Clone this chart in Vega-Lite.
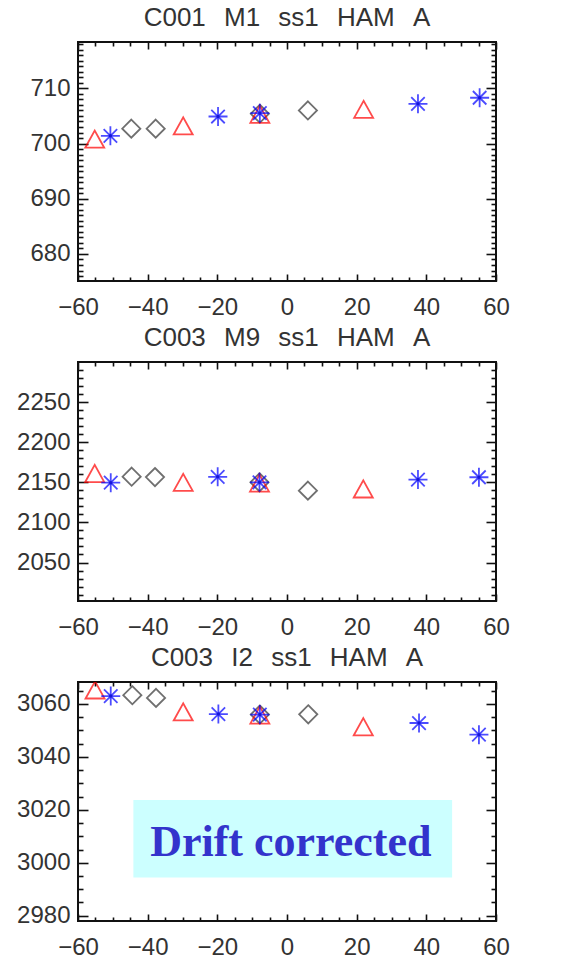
{
  "$schema": "https://vega.github.io/schema/vega-lite/v6.json",
  "padding": {"left": 15, "top": 4, "right": 5, "bottom": 2},
  "spacing": 4,
  "config": {
    "view": {"stroke": "#111", "strokeWidth": 2},
    "axis": {"grid": false, "domain": false, "title": null, "format": "d", "labelFont": "Liberation Sans", "labelFontSize": 24, "labelColor": "#333", "tickColor": "#111", "tickWidth": 1.6, "labelFlush": false, "labelOverlap": false, "labelBound": false},
    "title": {"font": "Liberation Sans", "fontSize": 26, "fontWeight": "normal", "color": "#333", "offset": 10, "baseline": "alphabetic", "frame": "group", "anchor": "middle"}
  },
  "datasets": {
    "pts": [
      {"p": 1, "s": "tri", "x": -55.2, "y": 700.8},
      {"p": 1, "s": "tri", "x": -29.8, "y": 703.2},
      {"p": 1, "s": "tri", "x": -7.8, "y": 705.3},
      {"p": 1, "s": "tri", "x": 22.0, "y": 706.2},
      {"p": 1, "s": "ast", "x": -50.7, "y": 701.4},
      {"p": 1, "s": "ast", "x": -19.8, "y": 704.9},
      {"p": 1, "s": "ast", "x": -7.8, "y": 705.5},
      {"p": 1, "s": "ast", "x": 37.6, "y": 707.2},
      {"p": 1, "s": "ast", "x": 55.3, "y": 708.3},
      {"p": 1, "s": "dia", "x": -44.7, "y": 702.7},
      {"p": 1, "s": "dia", "x": -37.7, "y": 702.7},
      {"p": 1, "s": "dia", "x": -7.8, "y": 705.4},
      {"p": 1, "s": "dia", "x": 6.0, "y": 706.0},
      {"p": 2, "s": "tri", "x": -55.2, "y": 2161.0},
      {"p": 2, "s": "tri", "x": -29.8, "y": 2150.0},
      {"p": 2, "s": "tri", "x": -7.9, "y": 2149.0},
      {"p": 2, "s": "tri", "x": 21.9, "y": 2141.7},
      {"p": 2, "s": "ast", "x": -50.6, "y": 2149.5},
      {"p": 2, "s": "ast", "x": -19.9, "y": 2156.8},
      {"p": 2, "s": "ast", "x": -7.9, "y": 2150.0},
      {"p": 2, "s": "ast", "x": 37.6, "y": 2153.4},
      {"p": 2, "s": "ast", "x": 55.1, "y": 2156.3},
      {"p": 2, "s": "dia", "x": -44.6, "y": 2157.0},
      {"p": 2, "s": "dia", "x": -37.9, "y": 2156.5},
      {"p": 2, "s": "dia", "x": -7.9, "y": 2150.0},
      {"p": 2, "s": "dia", "x": 6.0, "y": 2139.6},
      {"p": 3, "s": "tri", "x": -55.1, "y": 3065.3},
      {"p": 3, "s": "tri", "x": -29.8, "y": 3057.0},
      {"p": 3, "s": "tri", "x": -7.8, "y": 3055.8},
      {"p": 3, "s": "tri", "x": 21.9, "y": 3051.4},
      {"p": 3, "s": "ast", "x": -50.6, "y": 3063.0},
      {"p": 3, "s": "ast", "x": -19.7, "y": 3056.2},
      {"p": 3, "s": "ast", "x": -7.8, "y": 3056.0},
      {"p": 3, "s": "ast", "x": 37.9, "y": 3052.8},
      {"p": 3, "s": "ast", "x": 55.1, "y": 3048.4},
      {"p": 3, "s": "dia", "x": -44.4, "y": 3063.3},
      {"p": 3, "s": "dia", "x": -37.6, "y": 3062.3},
      {"p": 3, "s": "dia", "x": -7.8, "y": 3056.0},
      {"p": 3, "s": "dia", "x": 6.1, "y": 3056.1}
    ],
    "note": [
      {"x1": -44.1, "x2": 47.4, "y1": 2994.4, "y2": 3023.7, "xc": 1.1, "yc": 3002.6, "label": "Drift corrected"}
    ]
  },
  "vconcat": [
    {
      "title": {"text": "C001\u2002\u2009M1\u2002\u2009ss1\u2002\u2009HAM\u2002\u2009A"},
      "width": 418, "height": 239,
      "resolve": {"axis": {"x": "independent", "y": "independent"}},
      "layer": [
        {
          "data": {"name": "pts"},
          "transform": [{"filter": "datum.p == 1 && datum.s == 'dia'"}],
          "mark": {"type": "point", "shape": "M0,-1L1,0L0,1L-1,0Z", "filled": false, "color": "#333", "strokeWidth": 1.8, "size": 330},
          "encoding": {
            "x": {"field": "x", "type": "quantitative", "scale": {"domain": [-60, 60], "nice": false, "zero": false}, "axis": {"orient": "bottom", "values": [-60, -40, -20, 0, 20, 40, 60], "ticks": false, "labelPadding": 14}},
            "y": {"field": "y", "type": "quantitative", "scale": {"domain": [675.1, 718.4], "nice": false, "zero": false}, "axis": {"orient": "left", "values": [680, 690, 700, 710], "ticks": false, "labelPadding": 8}}
          }
        },
        {
          "data": {"name": "pts"},
          "transform": [{"filter": "datum.p == 1 && datum.s == 'tri'"}],
          "mark": {"type": "point", "shape": "M-1,0.9L0,-0.9L1,0.9Z", "filled": false, "color": "#ff0000", "strokeWidth": 1.8, "size": 361},
          "encoding": {
            "x": {"field": "x", "type": "quantitative", "scale": {"domain": [-60, 60], "nice": false, "zero": false}, "axis": {"orient": "bottom", "values": [-60, -40, -20, 0, 20, 40, 60], "labels": false, "tickSize": -7}},
            "y": {"field": "y", "type": "quantitative", "scale": {"domain": [675.1, 718.4], "nice": false, "zero": false}, "axis": {"orient": "left", "values": [680, 690, 700, 710], "labels": false, "tickSize": -10}}
          }
        },
        {
          "data": {"name": "pts"},
          "transform": [{"filter": "datum.p == 1 && datum.s == 'ast'"}],
          "mark": {"type": "point", "shape": "M-1,0L1,0M0,-1L0,1M-0.71,-0.71L0.71,0.71M-0.71,0.71L0.71,-0.71", "filled": false, "color": "#0000ff", "strokeWidth": 1.8, "size": 361},
          "encoding": {
            "x": {"field": "x", "type": "quantitative", "scale": {"domain": [-60, 60], "nice": false, "zero": false}, "axis": {"orient": "bottom", "values": [-55, -50, -45, -35, -30, -25, -15, -10, -5, 5, 10, 15, 25, 30, 35, 45, 50, 55], "labels": false, "tickSize": -4}},
            "y": {"field": "y", "type": "quantitative", "scale": {"domain": [675.1, 718.4], "nice": false, "zero": false}, "axis": {"orient": "left", "values": [676, 677, 678, 679, 681, 682, 683, 684, 685, 686, 687, 688, 689, 691, 692, 693, 694, 695, 696, 697, 698, 699, 701, 702, 703, 704, 705, 706, 707, 708, 709, 711, 712, 713, 714, 715, 716, 717, 718], "labels": false, "tickSize": -5}}
          }
        },
        {
          "data": {"name": "pts"},
          "transform": [{"filter": "datum.p == 1 && datum.s == 'ast'"}],
          "mark": {"type": "point", "shape": "circle", "filled": true, "color": "#0000cc", "size": 12},
          "encoding": {
            "x": {"field": "x", "type": "quantitative", "scale": {"domain": [-60, 60], "nice": false, "zero": false}, "axis": {"orient": "top", "values": [-60, -40, -20, 0, 20, 40, 60], "labels": false, "tickSize": -7}},
            "y": {"field": "y", "type": "quantitative", "scale": {"domain": [675.1, 718.4], "nice": false, "zero": false}, "axis": {"orient": "right", "values": [680, 690, 700, 710], "labels": false, "tickSize": -10}}
          }
        },
        {
          "data": {"name": "pts"},
          "transform": [{"filter": "datum.p == 1"}],
          "mark": {"type": "point", "opacity": 0},
          "encoding": {
            "x": {"field": "x", "type": "quantitative", "scale": {"domain": [-60, 60], "nice": false, "zero": false}, "axis": {"orient": "top", "values": [-55, -50, -45, -35, -30, -25, -15, -10, -5, 5, 10, 15, 25, 30, 35, 45, 50, 55], "labels": false, "tickSize": -4}},
            "y": {"field": "y", "type": "quantitative", "scale": {"domain": [675.1, 718.4], "nice": false, "zero": false}, "axis": {"orient": "right", "values": [676, 677, 678, 679, 681, 682, 683, 684, 685, 686, 687, 688, 689, 691, 692, 693, 694, 695, 696, 697, 698, 699, 701, 702, 703, 704, 705, 706, 707, 708, 709, 711, 712, 713, 714, 715, 716, 717, 718], "labels": false, "tickSize": -5}}
          }
        }
      ]
    },
    {
      "title": {"text": "C003\u2002\u2009M9\u2002\u2009ss1\u2002\u2009HAM\u2002\u2009A"},
      "width": 418, "height": 239,
      "resolve": {"axis": {"x": "independent", "y": "independent"}},
      "layer": [
        {
          "data": {"name": "pts"},
          "transform": [{"filter": "datum.p == 2 && datum.s == 'dia'"}],
          "mark": {"type": "point", "shape": "M0,-1L1,0L0,1L-1,0Z", "filled": false, "color": "#333", "strokeWidth": 1.8, "size": 330},
          "encoding": {
            "x": {"field": "x", "type": "quantitative", "scale": {"domain": [-60, 60], "nice": false, "zero": false}, "axis": {"orient": "bottom", "values": [-60, -40, -20, 0, 20, 40, 60], "ticks": false, "labelPadding": 14}},
            "y": {"field": "y", "type": "quantitative", "scale": {"domain": [2002, 2300], "nice": false, "zero": false}, "axis": {"orient": "left", "values": [2050, 2100, 2150, 2200, 2250], "ticks": false, "labelPadding": 8}}
          }
        },
        {
          "data": {"name": "pts"},
          "transform": [{"filter": "datum.p == 2 && datum.s == 'tri'"}],
          "mark": {"type": "point", "shape": "M-1,0.9L0,-0.9L1,0.9Z", "filled": false, "color": "#ff0000", "strokeWidth": 1.8, "size": 361},
          "encoding": {
            "x": {"field": "x", "type": "quantitative", "scale": {"domain": [-60, 60], "nice": false, "zero": false}, "axis": {"orient": "bottom", "values": [-60, -40, -20, 0, 20, 40, 60], "labels": false, "tickSize": -7}},
            "y": {"field": "y", "type": "quantitative", "scale": {"domain": [2002, 2300], "nice": false, "zero": false}, "axis": {"orient": "left", "values": [2050, 2100, 2150, 2200, 2250], "labels": false, "tickSize": -10}}
          }
        },
        {
          "data": {"name": "pts"},
          "transform": [{"filter": "datum.p == 2 && datum.s == 'ast'"}],
          "mark": {"type": "point", "shape": "M-1,0L1,0M0,-1L0,1M-0.71,-0.71L0.71,0.71M-0.71,0.71L0.71,-0.71", "filled": false, "color": "#0000ff", "strokeWidth": 1.8, "size": 361},
          "encoding": {
            "x": {"field": "x", "type": "quantitative", "scale": {"domain": [-60, 60], "nice": false, "zero": false}, "axis": {"orient": "bottom", "values": [-55, -50, -45, -35, -30, -25, -15, -10, -5, 5, 10, 15, 25, 30, 35, 45, 50, 55], "labels": false, "tickSize": -4}},
            "y": {"field": "y", "type": "quantitative", "scale": {"domain": [2002, 2300], "nice": false, "zero": false}, "axis": {"orient": "left", "values": [2010, 2020, 2030, 2040, 2060, 2070, 2080, 2090, 2110, 2120, 2130, 2140, 2160, 2170, 2180, 2190, 2210, 2220, 2230, 2240, 2260, 2270, 2280, 2290], "labels": false, "tickSize": -5}}
          }
        },
        {
          "data": {"name": "pts"},
          "transform": [{"filter": "datum.p == 2 && datum.s == 'ast'"}],
          "mark": {"type": "point", "shape": "circle", "filled": true, "color": "#0000cc", "size": 12},
          "encoding": {
            "x": {"field": "x", "type": "quantitative", "scale": {"domain": [-60, 60], "nice": false, "zero": false}, "axis": {"orient": "top", "values": [-60, -40, -20, 0, 20, 40, 60], "labels": false, "tickSize": -7}},
            "y": {"field": "y", "type": "quantitative", "scale": {"domain": [2002, 2300], "nice": false, "zero": false}, "axis": {"orient": "right", "values": [2050, 2100, 2150, 2200, 2250], "labels": false, "tickSize": -10}}
          }
        },
        {
          "data": {"name": "pts"},
          "transform": [{"filter": "datum.p == 2"}],
          "mark": {"type": "point", "opacity": 0},
          "encoding": {
            "x": {"field": "x", "type": "quantitative", "scale": {"domain": [-60, 60], "nice": false, "zero": false}, "axis": {"orient": "top", "values": [-55, -50, -45, -35, -30, -25, -15, -10, -5, 5, 10, 15, 25, 30, 35, 45, 50, 55], "labels": false, "tickSize": -4}},
            "y": {"field": "y", "type": "quantitative", "scale": {"domain": [2002, 2300], "nice": false, "zero": false}, "axis": {"orient": "right", "values": [2010, 2020, 2030, 2040, 2060, 2070, 2080, 2090, 2110, 2120, 2130, 2140, 2160, 2170, 2180, 2190, 2210, 2220, 2230, 2240, 2260, 2270, 2280, 2290], "labels": false, "tickSize": -5}}
          }
        }
      ]
    },
    {
      "title": {"text": "C003\u2002\u2009I2\u2002\u2009ss1\u2002\u2009HAM\u2002\u2009A"},
      "width": 418, "height": 239,
      "resolve": {"axis": {"x": "independent", "y": "independent"}},
      "layer": [
        {
          "data": {"name": "note"},
          "mark": {"type": "rect", "color": "#ccffff"},
          "encoding": {
            "x": {"field": "x1", "type": "quantitative", "scale": {"domain": [-60, 60], "nice": false, "zero": false}, "axis": null},
            "x2": {"field": "x2"},
            "y": {"field": "y1", "type": "quantitative", "scale": {"domain": [2978, 3068.3], "nice": false, "zero": false}, "axis": null},
            "y2": {"field": "y2"}
          }
        },
        {
          "data": {"name": "note"},
          "mark": {"type": "text", "font": "Liberation Serif", "fontWeight": "bold", "fontSize": 44, "color": "#3333cc", "align": "center", "baseline": "alphabetic"},
          "encoding": {
            "x": {"field": "xc", "type": "quantitative", "axis": null},
            "y": {"field": "yc", "type": "quantitative", "axis": null},
            "text": {"field": "label"}
          }
        },
        {
          "data": {"name": "pts"},
          "transform": [{"filter": "datum.p == 3 && datum.s == 'dia'"}],
          "mark": {"type": "point", "shape": "M0,-1L1,0L0,1L-1,0Z", "filled": false, "color": "#333", "strokeWidth": 1.8, "size": 330},
          "encoding": {
            "x": {"field": "x", "type": "quantitative", "scale": {"domain": [-60, 60], "nice": false, "zero": false}, "axis": {"orient": "bottom", "values": [-60, -40, -20, 0, 20, 40, 60], "ticks": false, "labelPadding": 14}},
            "y": {"field": "y", "type": "quantitative", "scale": {"domain": [2978, 3068.3], "nice": false, "zero": false}, "axis": {"orient": "left", "values": [2980, 3000, 3020, 3040, 3060], "ticks": false, "labelPadding": 8}}
          }
        },
        {
          "data": {"name": "pts"},
          "transform": [{"filter": "datum.p == 3 && datum.s == 'tri'"}],
          "mark": {"type": "point", "shape": "M-1,0.9L0,-0.9L1,0.9Z", "filled": false, "color": "#ff0000", "strokeWidth": 1.8, "size": 361, "clip": true},
          "encoding": {
            "x": {"field": "x", "type": "quantitative", "scale": {"domain": [-60, 60], "nice": false, "zero": false}, "axis": {"orient": "bottom", "values": [-60, -40, -20, 0, 20, 40, 60], "labels": false, "tickSize": -7}},
            "y": {"field": "y", "type": "quantitative", "scale": {"domain": [2978, 3068.3], "nice": false, "zero": false}, "axis": {"orient": "left", "values": [2980, 3000, 3020, 3040, 3060], "labels": false, "tickSize": -10}}
          }
        },
        {
          "data": {"name": "pts"},
          "transform": [{"filter": "datum.p == 3 && datum.s == 'ast'"}],
          "mark": {"type": "point", "shape": "M-1,0L1,0M0,-1L0,1M-0.71,-0.71L0.71,0.71M-0.71,0.71L0.71,-0.71", "filled": false, "color": "#0000ff", "strokeWidth": 1.8, "size": 361},
          "encoding": {
            "x": {"field": "x", "type": "quantitative", "scale": {"domain": [-60, 60], "nice": false, "zero": false}, "axis": {"orient": "bottom", "values": [-55, -50, -45, -35, -30, -25, -15, -10, -5, 5, 10, 15, 25, 30, 35, 45, 50, 55], "labels": false, "tickSize": -4}},
            "y": {"field": "y", "type": "quantitative", "scale": {"domain": [2978, 3068.3], "nice": false, "zero": false}, "axis": {"orient": "left", "values": [2985, 2990, 2995, 3005, 3010, 3015, 3025, 3030, 3035, 3045, 3050, 3055, 3065], "labels": false, "tickSize": -5}}
          }
        },
        {
          "data": {"name": "pts"},
          "transform": [{"filter": "datum.p == 3 && datum.s == 'ast'"}],
          "mark": {"type": "point", "shape": "circle", "filled": true, "color": "#0000cc", "size": 12},
          "encoding": {
            "x": {"field": "x", "type": "quantitative", "scale": {"domain": [-60, 60], "nice": false, "zero": false}, "axis": {"orient": "top", "values": [-60, -40, -20, 0, 20, 40, 60], "labels": false, "tickSize": -7}},
            "y": {"field": "y", "type": "quantitative", "scale": {"domain": [2978, 3068.3], "nice": false, "zero": false}, "axis": {"orient": "right", "values": [2980, 3000, 3020, 3040, 3060], "labels": false, "tickSize": -10}}
          }
        },
        {
          "data": {"name": "pts"},
          "transform": [{"filter": "datum.p == 3"}],
          "mark": {"type": "point", "opacity": 0},
          "encoding": {
            "x": {"field": "x", "type": "quantitative", "scale": {"domain": [-60, 60], "nice": false, "zero": false}, "axis": {"orient": "top", "values": [-55, -50, -45, -35, -30, -25, -15, -10, -5, 5, 10, 15, 25, 30, 35, 45, 50, 55], "labels": false, "tickSize": -4}},
            "y": {"field": "y", "type": "quantitative", "scale": {"domain": [2978, 3068.3], "nice": false, "zero": false}, "axis": {"orient": "right", "values": [2985, 2990, 2995, 3005, 3010, 3015, 3025, 3030, 3035, 3045, 3050, 3055, 3065], "labels": false, "tickSize": -5}}
          }
        }
      ]
    }
  ]
}
